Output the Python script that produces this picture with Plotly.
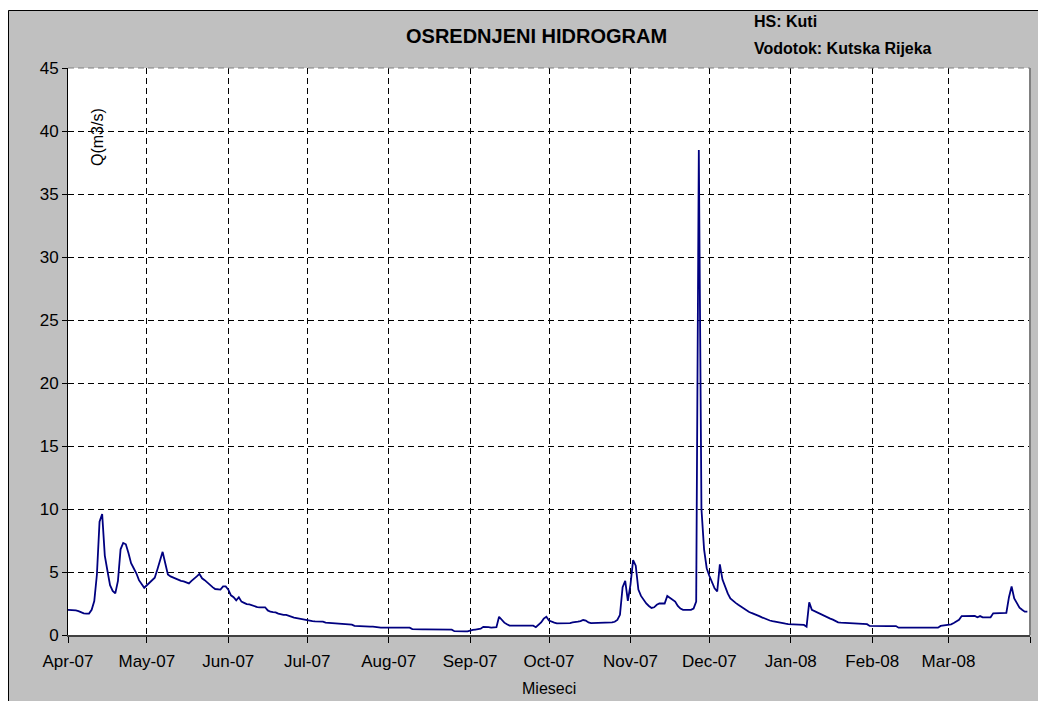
import pandas as pd
import plotly.graph_objects as go

# Daily mean discharge Q (m3/s), HS Kuti, Apr 2007 - Mar 2008
apr = [2.0, 2.0, 1.98, 1.95, 1.9, 1.8, 1.72, 1.7, 1.7, 2.0, 2.7, 4.8, 9.0, 9.6, 6.3,
       5.1, 3.95, 3.5, 3.3, 4.3, 6.8, 7.3, 7.2, 6.5, 5.7, 5.3, 4.9, 4.35, 4.0, 3.75]
may = [3.95, 4.15, 4.3, 4.55, 5.2, 6.0, 6.6, 5.7, 4.8, 4.65, 4.55, 4.5, 4.4, 4.3, 4.25,
       4.15, 4.1, 4.3, 4.45, 4.65, 4.85, 4.5, 4.35, 4.15, 3.95, 3.8, 3.65, 3.6, 3.6, 3.86, 3.86]
jun = [3.6, 3.15, 3.0, 2.75, 3.0, 2.65, 2.55, 2.45, 2.43, 2.35, 2.25, 2.22, 2.2, 2.2, 2.2,
       1.95, 1.85, 1.82, 1.8, 1.7, 1.62, 1.6, 1.59, 1.5, 1.42, 1.38, 1.34, 1.3, 1.22, 1.18]
jul = [1.13, 1.12, 1.1, 1.08, 1.07, 1.06, 1.06, 0.98, 0.97, 0.96, 0.95, 0.94, 0.93, 0.92, 0.9,
       0.88, 0.85, 0.82, 0.72, 0.7, 0.7, 0.69, 0.68, 0.67, 0.66, 0.66, 0.62, 0.58, 0.58, 0.58, 0.58]
aug = [0.58, 0.58, 0.58, 0.58, 0.58, 0.58, 0.58, 0.58, 0.58, 0.47, 0.45, 0.45, 0.45, 0.45, 0.45,
       0.45, 0.45, 0.45, 0.45, 0.45, 0.45, 0.45, 0.45, 0.45, 0.42, 0.3, 0.28, 0.28, 0.28, 0.28, 0.28]
sep = [0.36, 0.4, 0.43, 0.45, 0.5, 0.65, 0.65, 0.62, 0.58, 0.58, 0.62, 1.45, 1.2, 0.98, 0.85,
       0.75, 0.74, 0.74, 0.74, 0.74, 0.74, 0.74, 0.74, 0.74, 0.74, 0.62, 0.8, 1.0, 1.3, 1.45]
oct_ = [1.15, 1.05, 0.98, 0.93, 0.93, 0.93, 0.93, 0.93, 0.95, 1.0, 1.06, 1.06, 1.1, 1.19, 1.15,
        1.0, 0.95, 0.95, 0.95, 0.95, 0.95, 0.95, 0.95, 0.95, 1.0, 1.05, 1.2, 1.6, 3.8, 4.3, 2.7]
nov = [4.0, 5.95, 5.5, 3.6, 3.1, 2.75, 2.5, 2.3, 2.15, 2.2, 2.4, 2.5, 2.5, 2.5, 3.1,
       2.95, 2.85, 2.65, 2.3, 2.1, 2.0, 1.98, 1.98, 2.0, 2.1, 2.65, 38.5, 10.0, 6.8, 5.3]
dec = [4.7, 4.2, 3.7, 3.45, 5.6, 4.4, 3.8, 3.3, 2.9, 2.7, 2.55, 2.4, 2.25, 2.1, 1.98,
       1.85, 1.75, 1.68, 1.6, 1.5, 1.4, 1.3, 1.22, 1.15, 1.1, 1.05, 1.0, 0.95, 0.92, 0.9, 0.87]
jan = [0.86, 0.85, 0.85, 0.85, 0.85, 0.8, 0.66, 2.6, 2.0, 1.9, 1.75, 1.68, 1.6, 1.48, 1.4,
       1.3, 1.22, 1.1, 1.0, 0.98, 0.97, 0.96, 0.95, 0.94, 0.93, 0.93, 0.93, 0.9, 0.88, 0.86, 0.72]
feb = [0.71, 0.71, 0.71, 0.71, 0.71, 0.71, 0.71, 0.71, 0.71, 0.71, 0.58, 0.58, 0.58, 0.58, 0.58,
       0.58, 0.58, 0.58, 0.58, 0.58, 0.58, 0.58, 0.58, 0.58, 0.58, 0.58, 0.72, 0.74, 0.76]
mar = [0.79, 0.85, 0.95, 1.1, 1.2, 1.5, 1.51, 1.51, 1.51, 1.51, 1.51, 1.4, 1.5, 1.4, 1.4,
       1.4, 1.4, 1.72, 1.72, 1.72, 1.72, 1.72, 1.75, 3.0, 3.85, 2.9, 2.5, 2.17, 2.0, 1.85, 1.85]

start_date = "2007-04-01"
tick_dates = ["2007-04-01", "2007-05-01", "2007-06-01", "2007-07-01", "2007-08-01",
              "2007-09-01", "2007-10-01", "2007-11-01", "2007-12-01", "2008-01-01",
              "2008-02-01", "2008-03-01", "2008-04-01"]
tick_labels = ["Apr-07", "May-07", "Jun-07", "Jul-07", "Aug-07", "Sep-07", "Oct-07",
               "Nov-07", "Dec-07", "Jan-08", "Feb-08", "Mar-08", ""]
y_ticks = [0, 5, 10, 15, 20, 25, 30, 35, 40, 45]

q = apr + may + jun + jul + aug + sep + oct_ + nov + dec + jan + feb + mar
dates = pd.date_range(start_date, periods=len(q), freq="D")

FONT = "Liberation Sans, Arial, sans-serif"

# page body has an 8px margin, so the figure starts at (8, 8) in the window
OX, OY = 8, 8
W, H = 1046 - OX, 701 - OY
# plot area in window pixels: x 68..1030, y 68..635
PX0, PX1, PY0, PY1 = 68, 1030, 68, 635
L, T = PX0 - OX, PY0 - OY
R, B = (OX + W) - PX1, (OY + H) - PY1
pw, ph = PX1 - PX0, PY1 - PY0

def px(xp):
    return (xp - PX0) / pw

def py(yp):
    return (PY1 - yp) / ph

fig = go.Figure()
fig.add_trace(go.Scatter(x=dates, y=q, mode="lines",
                         line=dict(color="#000080", width=1.8),
                         hoverinfo="skip", showlegend=False))

fig.update_layout(
    width=W, height=H,
    margin=dict(l=L, r=R, t=T, b=B, pad=0),
    paper_bgcolor="#c0c0c0",
    plot_bgcolor="#ffffff",
    font=dict(family=FONT, color="#000000"),
    xaxis=dict(
        type="date",
        range=["2007-04-01", "2008-04-01"],
        tickmode="array", tickvals=tick_dates, ticktext=tick_labels,
        showgrid=True, gridcolor="#000000", gridwidth=1, griddash="6px,4px",
        showline=True, linecolor="#404040", linewidth=2,
        ticks="outside", ticklen=6, tickcolor="#000000",
        tickfont=dict(size=17, family=FONT), ticklabelstandoff=4,
        zeroline=False, fixedrange=True,
    ),
    yaxis=dict(
        range=[0, 45],
        tickmode="array", tickvals=y_ticks,
        showgrid=True, gridcolor="#000000", gridwidth=1, griddash="6px,4px",
        showline=True, linecolor="#000000", linewidth=1,
        ticks="outside", ticklen=5, tickcolor="#000000",
        tickfont=dict(size=17, family=FONT),
        zeroline=False, fixedrange=True,
    ),
    annotations=[
        dict(text="<b>OSREDNJENI HIDROGRAM</b>", x=px(536), y=py(36), xref="paper", yref="paper",
             xanchor="center", yanchor="middle", showarrow=False, font=dict(size=20, family=FONT)),
        dict(text="<b>HS: Kuti</b>", x=px(752), y=py(22), xref="paper", yref="paper",
             xanchor="left", yanchor="middle", showarrow=False, font=dict(size=16, family=FONT)),
        dict(text="<b>Vodotok: Kutska Rijeka</b>", x=px(752), y=py(48), xref="paper", yref="paper",
             xanchor="left", yanchor="middle", showarrow=False, font=dict(size=16, family=FONT)),
        dict(text="Q(m3/s)", x=px(97), y=py(137), xref="paper", yref="paper", textangle=-90,
             xanchor="center", yanchor="middle", showarrow=False, font=dict(size=16, family=FONT)),
        dict(text="Mieseci", x=px(549), y=py(688), xref="paper", yref="paper",
             xanchor="center", yanchor="middle", showarrow=False, font=dict(size=16, family=FONT)),
    ],
    shapes=[
        # white page strip above the grey chart area
        dict(type="rect", xref="paper", yref="paper", x0=px(0), x1=px(1060), y0=py(10), y1=py(-10),
             fillcolor="#ffffff", line=dict(width=0), layer="above"),
        # chart area border
        dict(type="rect", xref="paper", yref="paper", x0=px(8.5), x1=px(1045), y0=py(705), y1=py(10.5),
             fillcolor="rgba(0,0,0,0)", line=dict(color="#000000", width=1), layer="above"),
        # plot area right border
        dict(type="line", xref="paper", yref="paper", x0=1, x1=1, y0=0, y1=1,
             line=dict(color="#808080", width=2), layer="above"),
        # top grid line at 45
        dict(type="line", xref="paper", yref="paper", x0=0, x1=1, y0=1, y1=1,
             line=dict(color="#808080", width=1, dash="6px,4px"), layer="above"),
    ],
)

fig.write_html("out.html")
